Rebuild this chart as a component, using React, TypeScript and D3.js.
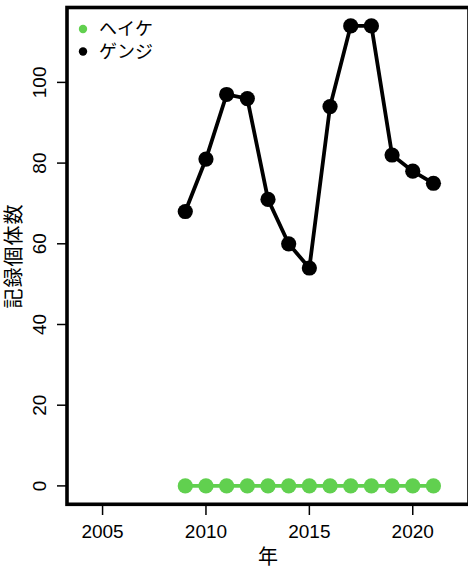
import React from "react";
import * as d3 from "d3";

const years = [2009, 2010, 2011, 2012, 2013, 2014, 2015, 2016, 2017, 2018, 2019, 2020, 2021];
const heike = [0, 0, 0, 0, 0, 0, 0, 0, 0, 0, 0, 0, 0];
const genji = [68, 81, 97, 96, 71, 60, 54, 94, 114, 114, 82, 78, 75];
const xTicks = [2005, 2010, 2015, 2020];
const yTicks = [0, 20, 40, 60, 80, 100];
const seriesNames = ["ヘイケ", "ゲンジ"];
const seriesColors = ["#61D04F", "#000000"];

const W = 468;
const H = 567;
const FONT = "'Liberation Sans', Arial, 'Noto Sans CJK JP', sans-serif";

export default function App() {
  const left = 67, right = 469, top = 7.5, bottom = 504.3;
  const x = d3.scaleLinear().domain([2003.28, 2022.72]).range([left, right]);
  const y = d3.scaleLinear().domain([-4.56, 118.56]).range([bottom, top]);
  const line = d3.line<number>().x((_, i) => x(years[i])).y((d) => y(d));
  const series = [heike, genji];

  return (
    <svg width={W} height={H} style={{ position: "absolute", left: 0, top: 0, background: "#fff" }} fontFamily={FONT}>
      <rect x={0} y={0} width={W} height={H} fill="#fff" />
      {series.map((s, si) => (
        <g key={si}>
          <path d={line(s) || ""} fill="none" stroke={seriesColors[si]} strokeWidth={3.8} />
          {s.map((v, i) => (
            <circle key={i} cx={x(years[i])} cy={y(v)} r={7.6} fill={seriesColors[si]} />
          ))}
        </g>
      ))}
      <rect x={left} y={top} width={right - left} height={bottom - top} fill="none" stroke="#000" strokeWidth={3.6} />
      {xTicks.map((t) => (
        <g key={t}>
          <line x1={x(t)} x2={x(t)} y1={bottom} y2={515} stroke="#000" strokeWidth={1.5} />
          <text x={x(t)} y={538} textAnchor="middle" fontSize={19} fill="#000">{t}</text>
        </g>
      ))}
      {yTicks.map((t) => (
        <g key={t}>
          <line x1={57} x2={left} y1={y(t)} y2={y(t)} stroke="#000" strokeWidth={1.5} />
          <text transform={`translate(45.5,${y(t)}) rotate(-90)`} textAnchor="middle" fontSize={19} fill="#000">{t}</text>
        </g>
      ))}
      <text x={(left + right) / 2} y={564} textAnchor="middle" fontSize={20} fill="#000">年</text>
      <text transform={`translate(21,${(top + bottom) / 2}) rotate(-90)`} textAnchor="middle" fontSize={20} letterSpacing={1} fill="#000">記録個体数</text>
      {seriesNames.map((n, i) => (
        <g key={n}>
          <circle cx={83} cy={29 + i * 22.5} r={4.2} fill={seriesColors[i]} />
          <text x={99} y={29 + i * 22.5} dy="0.35em" fontSize={18} fill="#000">{n}</text>
        </g>
      ))}
    </svg>
  );
}
